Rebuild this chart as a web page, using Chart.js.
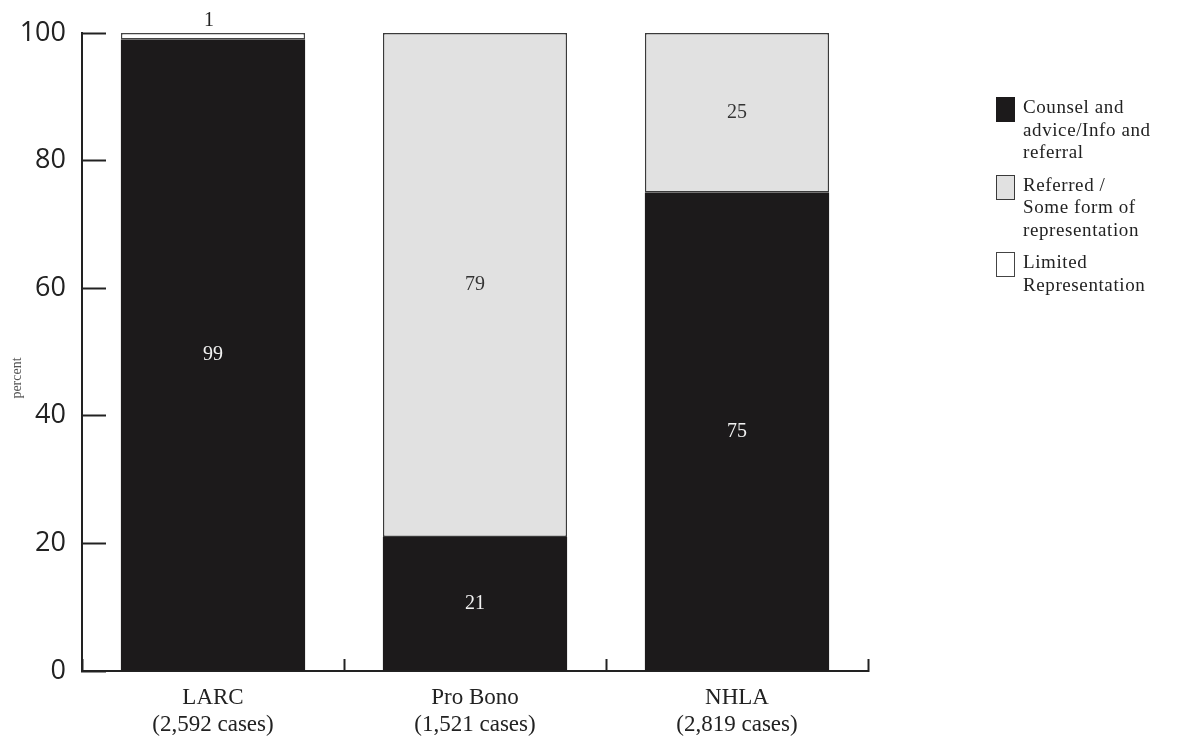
<!DOCTYPE html>
<html>
<head>
<meta charset="utf-8">
<script src="https://cdn.jsdelivr.net/npm/chart.js@4.4.1/dist/chart.umd.min.js"></script>
<style>
  body { margin: 0; background: #fff; }
  #wrap { position: relative; width: 1178px; height: 744px; }
  #legend { position: absolute; left: 996px; top: 96px; font-family: "Liberation Serif", serif; font-size: 19px; color: #222; }
  .item { display: flex; align-items: flex-start; margin-bottom: 10px; }
  .box { width: 19px; height: 25px; margin-right: 8px; margin-top: 1px; box-sizing: border-box; border: 1px solid #555; flex: none; }
  .txt { line-height: 22.5px; width: 170px; letter-spacing: 0.6px; }
</style>
</head>
<body>
<div id="wrap">
  <canvas id="myChart" width="1178" height="744"></canvas>
  <div id="legend"></div>
</div>
<script>
'use strict';
// categories (two-line labels)
const categories = [['LARC', '(2,592 cases)'], ['Pro Bono', '(1,521 cases)'], ['NHLA', '(2,819 cases)']];
const seriesNames = ['Counsel and advice/Info and referral', 'Referred/ Some form of representation', 'Limited Representation'];
const legendLines = [['Counsel and', 'advice/Info and', 'referral'], ['Referred /', 'Some form of', 'representation'], ['Limited', 'Representation']];
const counselValues = [99, 21, 75];
const referredValues = [0, 79, 25];
const limitedValues = [1, 0, 0];
const yTicks = [0, 20, 40, 60, 80, 100];
const yTitle = 'percent';

const fills = ['#1c1a1b', '#e1e1e1', '#ffffff'];
const borders = ['#1c1a1b', '#3a3a3a', '#444444'];

// value labels drawn on / above each segment
const valueLabels = {
  id: 'valueLabels',
  afterDatasetsDraw(chart) {
    let ctx = chart.ctx;
    ctx.save();
    ctx.font = '20px "Liberation Serif", serif';
    ctx.textAlign = 'center';
    ctx.textBaseline = 'middle';
    chart.data.datasets.forEach(function (ds, di) {
      let meta = chart.getDatasetMeta(di);
      meta.data.forEach(function (bar, i) {
        let v = ds.data[i];
        if (!v) return;
        if (v < 5) {
          ctx.fillStyle = '#222';
          ctx.fillText(v, bar.x - 4, bar.y - 12);
        } else {
          ctx.fillStyle = di === 0 ? '#f2f2f2' : '#333';
          ctx.fillText(v, bar.x, (bar.y + bar.base) / 2);
        }
      });
    });
    // y axis title
    ctx.translate(17, 378);
    ctx.rotate(-Math.PI / 2);
    ctx.font = '14px "Liberation Serif", serif';
    ctx.fillStyle = '#555';
    ctx.fillText(yTitle, 0, 0);
    ctx.restore();
  }
};

const ctx = document.getElementById('myChart').getContext('2d');

let config = {
  type: 'bar',
  data: {
    labels: categories,
    datasets: [
      { label: seriesNames[0], data: counselValues, backgroundColor: fills[0], borderColor: borders[0], borderWidth: 0 },
      { label: seriesNames[1], data: referredValues, backgroundColor: fills[1], borderColor: borders[1], borderWidth: 1.5, borderSkipped: false },
      { label: seriesNames[2], data: limitedValues, backgroundColor: fills[2], borderColor: borders[2], borderWidth: 1.5, borderSkipped: false }
    ]
  },
  options: {
    responsive: false,
    animation: false,
    devicePixelRatio: 1,
    layout: { padding: { top: 33, right: 310, bottom: 0, left: 0 } },
    plugins: { legend: { display: false }, tooltip: { enabled: false } },
    datasets: { bar: { barPercentage: 0.703, categoryPercentage: 1 } },
    scales: {
      x: {
        stacked: true,
        grid: { drawOnChartArea: false, offset: true, tickLength: -12, tickColor: '#222', tickWidth: 2 },
        border: { color: '#222', width: 2 },
        ticks: { color: '#222', padding: 25, font: { family: '"Liberation Serif", serif', size: 23 } },
        afterFit: function (scale) { scale.height = 73; }
      },
      y: {
        stacked: true,
        min: 0,
        max: 100,
        afterBuildTicks: function (scale) { scale.ticks = yTicks.map(function (v) { return { value: v }; }); },
        grid: { drawOnChartArea: false, tickLength: -24, tickColor: '#222', tickWidth: 2 },
        border: { color: '#222', width: 2 },
        ticks: { color: '#222', padding: 40, font: { family: '"Open Sans", sans-serif', size: 27 } },
        afterFit: function (scale) {
          scale.width = 82;
          scale.paddingTop = 0;
          scale.paddingBottom = 0;
        }
      }
    }
  },
  plugins: [valueLabels]
};
const myChart = new Chart(ctx, config);

// legend on the right
let legend = document.getElementById('legend');
for (let i = 0; i < seriesNames.length; i++) {
  let item = document.createElement('div');
  item.className = 'item';
  let box = document.createElement('div');
  box.className = 'box';
  box.style.background = fills[i];
  box.style.borderColor = i === 0 ? fills[0] : borders[i];
  let txt = document.createElement('div');
  txt.className = 'txt';
  txt.innerHTML = legendLines[i].join('<br>');
  item.appendChild(box);
  item.appendChild(txt);
  legend.appendChild(item);
}
</script>
</body>
</html>
